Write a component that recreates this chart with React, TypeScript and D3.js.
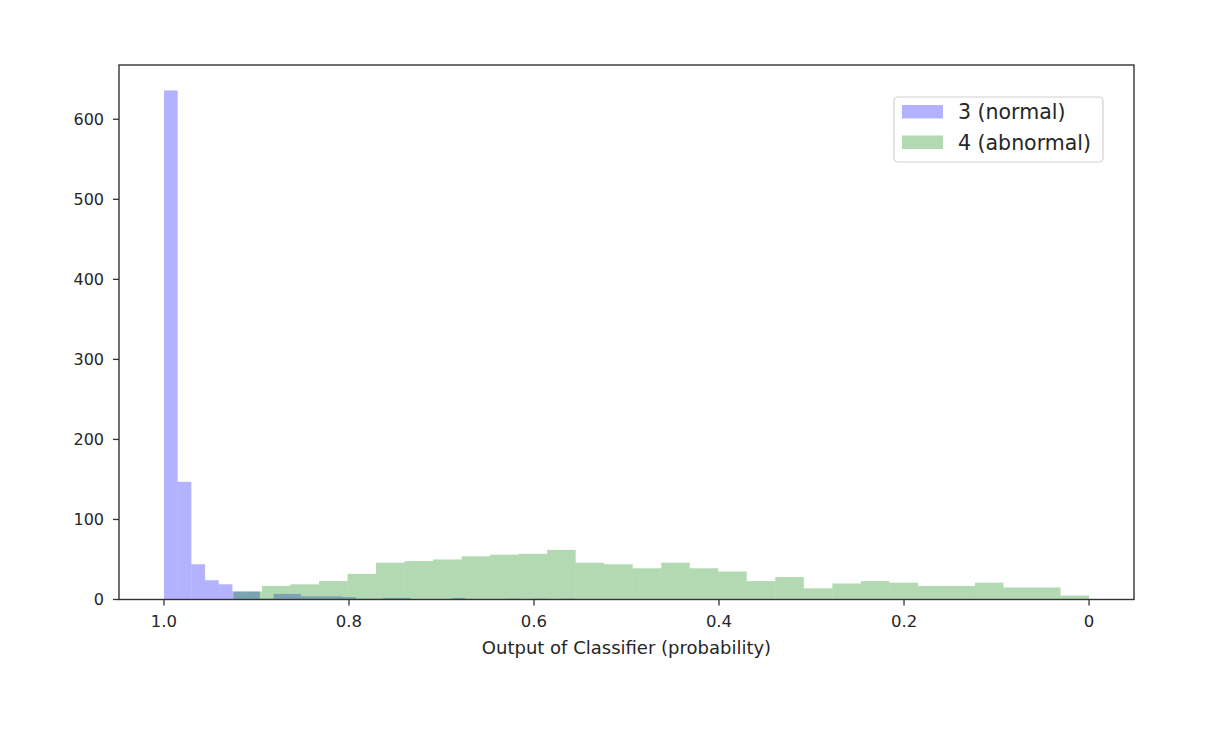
import React from "react";
import * as d3 from "d3";

// ---- data ----
// counts are listed left to right on the reversed axis (from the high end of each range down)
const binCount = 30;
const normalRange = [0.5557, 1.0];
const abnormalRange = [0.0, 0.9249];
const normalCounts = [636, 147, 44, 24, 19, 10, 10, 1, 7, 7, 4, 4, 4, 3, 1, 1, 2, 2, 0, 0, 0, 2, 0, 0, 0, 1, 0, 1, 0, 1];
const abnormalCounts = [10, 17, 19, 23, 32, 46, 48, 50, 54, 56, 57, 62, 46, 44, 39, 46, 39, 35, 23, 28, 14, 20, 23, 21, 17, 17, 21, 15, 15, 5];
const xTickValues = [1.0, 0.8, 0.6, 0.4, 0.2, 0];
const xTickLabels = ["1.0", "0.8", "0.6", "0.4", "0.2", "0"];
const yTickValues = [0, 100, 200, 300, 400, 500, 600];
const seriesNames = ["3 (normal)", "4 (abnormal)"];
const seriesColors = ["rgba(0,0,255,0.3)", "rgba(0,128,0,0.3)"];
const xLabel = "Output of Classifier (probability)";

type Bin = { lo: number; hi: number; n: number };
function toBins(range: number[], counts: number[]): Bin[] {
  const w = (range[1] - range[0]) / binCount;
  return counts.map((n, i) => ({ hi: range[1] - i * w, lo: range[1] - (i + 1) * w, n }));
}

export default function App() {
  const W = 1232, H = 734;
  const left = 119, right = 1134, top = 65, bottom = 599.5;
  const x = d3.scaleLinear().domain([1.0486, -0.0486]).range([left, right]);
  const yMax = (d3.max(normalCounts) as number) * 1.05;
  const y = d3.scaleLinear().domain([0, yMax]).range([bottom, top]);
  const series = [toBins(normalRange, normalCounts), toBins(abnormalRange, abnormalCounts)];
  const font = "'DejaVu Sans', sans-serif";
  const txt = "#262626";

  return (
    <svg width={W} height={H} style={{ position: "absolute", left: 0, top: 0, background: "#fff" }}>
      <rect x={0} y={0} width={W} height={H} fill="#fff" />
      {series.map((bins, si) => (
        <g key={si}>
          {bins.filter(b => b.n > 0).map((b, i) => (
            <rect key={i} x={x(b.hi)} y={y(b.n)} width={x(b.lo) - x(b.hi)} height={y(0) - y(b.n)}
              fill={seriesColors[si]} />
          ))}
        </g>
      ))}
      <rect x={left} y={top} width={right - left} height={bottom - top} fill="none" stroke="#333" strokeWidth={1.4} />
      {xTickValues.map((v, i) => (
        <g key={i}>
          <line x1={x(v)} x2={x(v)} y1={bottom} y2={bottom + 6} stroke="#333" strokeWidth={1.3} />
          <text x={x(v)} y={bottom + 27} textAnchor="middle" fontFamily={font} fontSize={16.5} fill={txt}>{xTickLabels[i]}</text>
        </g>
      ))}
      {yTickValues.map((v, i) => (
        <g key={i}>
          <line x1={left - 6} x2={left} y1={y(v)} y2={y(v)} stroke="#333" strokeWidth={1.3} />
          <text x={left - 15} y={y(v)} dy="0.35em" textAnchor="end" fontFamily={font} fontSize={16} fill={txt}>{v}</text>
        </g>
      ))}
      <text x={(x(1) + x(0)) / 2} y={bottom + 54} textAnchor="middle" fontFamily={font} fontSize={18} fill={txt}>{xLabel}</text>
      <g>
        <rect x={894} y={97} width={209} height={65} rx={4} fill="rgba(255,255,255,0.8)" stroke="#d0d0d0" strokeWidth={1.2} />
        {seriesNames.map((name, i) => (
          <g key={i} transform={`translate(902,${105 + i * 30.5})`}>
            <rect x={0} y={0} width={41} height={13.5} fill={seriesColors[i]} />
            <text x={56} y={7} dy="0.36em" fontFamily={font} fontSize={20.5} fill={txt}>{name}</text>
          </g>
        ))}
      </g>
    </svg>
  );
}
